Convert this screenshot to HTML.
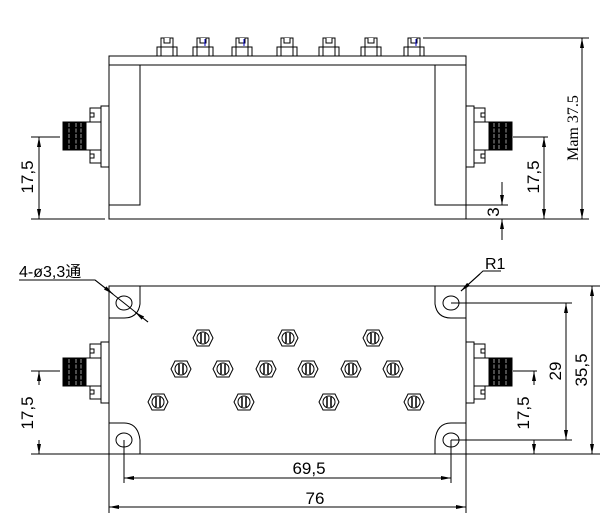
<!DOCTYPE html>
<html><head><meta charset="utf-8"><style>
html,body{margin:0;padding:0;background:#fff;width:610px;height:527px;overflow:hidden}
text{font-family:"Liberation Sans","Noto Sans CJK SC",sans-serif;fill:#000}
</style></head><body>
<svg width="610" height="527" viewBox="0 0 610 527" xmlns="http://www.w3.org/2000/svg">
<defs>
<marker id="a" viewBox="0 0 10 4" refX="10" refY="2" markerWidth="10" markerHeight="4" markerUnits="userSpaceOnUse" orient="auto-start-reverse"><path d="M0,0L10,2L0,4z" fill="#000"/></marker>
<g id="sma" fill="#fff" stroke="#000" stroke-width="1">
<rect x="-8" y="-30" width="8" height="61"/>
<rect x="-19" y="-28" width="11" height="14"/>
<rect x="-19" y="13" width="11" height="14"/>
<path d="M-19,-23h4v4h-4M-19,18h4v4h-4" fill="none"/>
<rect x="-23" y="-14" width="15" height="28"/>
<rect x="-46" y="-14" width="23" height="28" fill="#000"/>
<path d="M-40,-13v26M-33,-13v26M-28,-13v26" stroke="#fff" stroke-width="0.6" stroke-dasharray="4,1.5"/>
</g>
<g id="ts" fill="#fff" stroke="#000" stroke-width="1">
<rect x="-6" y="0" width="12" height="9"/>
<path d="M-3,0v5h6v-5"/>
<rect x="-10" y="9" width="20" height="9"/>
<path d="M-6,9v9M6,9v9" fill="none"/>
</g>
<g id="tu" fill="#fff" stroke="#000" stroke-width="1">
<polygon points="-10,0 -6,-8 6,-8 10,0 6,8 -6,8"/>
<circle r="6"/>
<path d="M-2,-5v10M2,-5v10" fill="none" stroke-width="1.5"/>
</g>
</defs>

<g fill="none" stroke="#000" stroke-width="1">
<rect x="109" y="56" width="357" height="163"/>
<path d="M109,65H466M140,65V205H109M435,65V205H466"/>
<path d="M31,137H60M31,219H105M39,137V219" />
<line x1="39" y1="150" x2="39" y2="137" marker-end="url(#a)"/>
<line x1="39" y1="206" x2="39" y2="219" marker-end="url(#a)"/>
<path d="M513,137H548M466,219H589M544,137V219M435,205H508M423,38H589M582,38V219"/>
<line x1="544" y1="150" x2="544" y2="137" marker-end="url(#a)"/>
<line x1="544" y1="206" x2="544" y2="219" marker-end="url(#a)"/>
<line x1="582" y1="52" x2="582" y2="38" marker-end="url(#a)"/>
<line x1="582" y1="205" x2="582" y2="219" marker-end="url(#a)"/>
<line x1="502" y1="182" x2="502" y2="205" marker-end="url(#a)"/>
<line x1="502" y1="240" x2="502" y2="219" marker-end="url(#a)"/>

<path d="M109,286H466V454H109Z"/>
<path d="M140,286V304Q138,318 124,318H109"/>
<path d="M435,286V304Q437,318 451,318H466"/>
<path d="M140,454V440Q138,423 124,423H109"/>
<path d="M435,454V440Q437,423 451,423H466"/>
<ellipse cx="124" cy="303" rx="8" ry="7"/>
<ellipse cx="451" cy="303" rx="8" ry="7"/>
<ellipse cx="124" cy="440" rx="8" ry="7"/>
<ellipse cx="451" cy="440" rx="8" ry="7"/>
<path d="M31,371H60M31,454H109"/>
<line x1="39" y1="385" x2="39" y2="371" marker-end="url(#a)"/>
<line x1="39" y1="440" x2="39" y2="454" marker-end="url(#a)"/>
<path d="M513,371H537M466,454H600M466,286H600M451,303H572M451,440H572"/>
<line x1="534" y1="385" x2="534" y2="371" marker-end="url(#a)"/>
<line x1="534" y1="440" x2="534" y2="454" marker-end="url(#a)"/>
<line x1="566" y1="303" x2="566" y2="440" marker-start="url(#a)" marker-end="url(#a)"/>
<line x1="592" y1="286" x2="592" y2="454" marker-start="url(#a)" marker-end="url(#a)"/>
<path d="M124,440V483M451,440V483M109,454V513M466,454V513"/>
<line x1="124" y1="478" x2="451" y2="478" marker-start="url(#a)" marker-end="url(#a)"/>
<line x1="109" y1="507" x2="466" y2="507" marker-start="url(#a)" marker-end="url(#a)"/>
<path d="M19,280H95L148,322"/>
<line x1="95" y1="280" x2="113" y2="294" marker-end="url(#a)"/>
<line x1="148" y1="322" x2="135" y2="312" marker-end="url(#a)"/>
<path d="M501,271H483L461,291"/>
<line x1="480" y1="274" x2="461" y2="291" marker-end="url(#a)"/>
</g>

<use href="#sma" transform="translate(109,136)"/>
<use href="#sma" transform="translate(466,136) scale(-1,1)"/>
<use href="#sma" transform="translate(109,372)"/>
<use href="#sma" transform="translate(466,372) scale(-1,1)"/>

<use href="#ts" x="167" y="38"/><use href="#ts" x="203" y="38"/><use href="#ts" x="242" y="38"/>
<use href="#ts" x="287" y="38"/><use href="#ts" x="329" y="38"/><use href="#ts" x="371" y="38"/><use href="#ts" x="414" y="38"/>
<path d="M205,39v7M244,39v7M416,39v7" stroke="#00c" stroke-width="1"/>

<use href="#tu" x="203" y="338"/><use href="#tu" x="288" y="338"/><use href="#tu" x="373" y="338"/>
<use href="#tu" x="181" y="369"/><use href="#tu" x="223" y="369"/><use href="#tu" x="266" y="369"/>
<use href="#tu" x="308" y="369"/><use href="#tu" x="351" y="369"/><use href="#tu" x="393" y="369"/>
<use href="#tu" x="158" y="402"/><use href="#tu" x="244" y="402"/><use href="#tu" x="329" y="402"/><use href="#tu" x="414" y="402"/>

<g font-size="17">
<text transform="translate(33,177) rotate(-90)" text-anchor="middle">17,5</text>
<text transform="translate(539,177) rotate(-90)" text-anchor="middle">17,5</text>
<text transform="translate(499,212) rotate(-90)" text-anchor="middle">3</text>
<text transform="translate(33,413) rotate(-90)" text-anchor="middle">17,5</text>
<text transform="translate(529,413) rotate(-90)" text-anchor="middle">17,5</text>
<text transform="translate(561,371) rotate(-90)" text-anchor="middle">29</text>
<text transform="translate(587,370) rotate(-90)" text-anchor="middle">35,5</text>
<text x="309" y="474" text-anchor="middle">69,5</text>
<text x="315" y="504" text-anchor="middle">76</text>
</g>
<text transform="translate(578,128) rotate(-90)" text-anchor="middle" font-size="16" style="font-family:'Liberation Serif',serif">Mam 37.5</text>
<text x="19" y="277" font-size="16">4-ø3,3通</text>
<text x="485" y="269" font-size="16">R1</text>
</svg>
</body></html>
